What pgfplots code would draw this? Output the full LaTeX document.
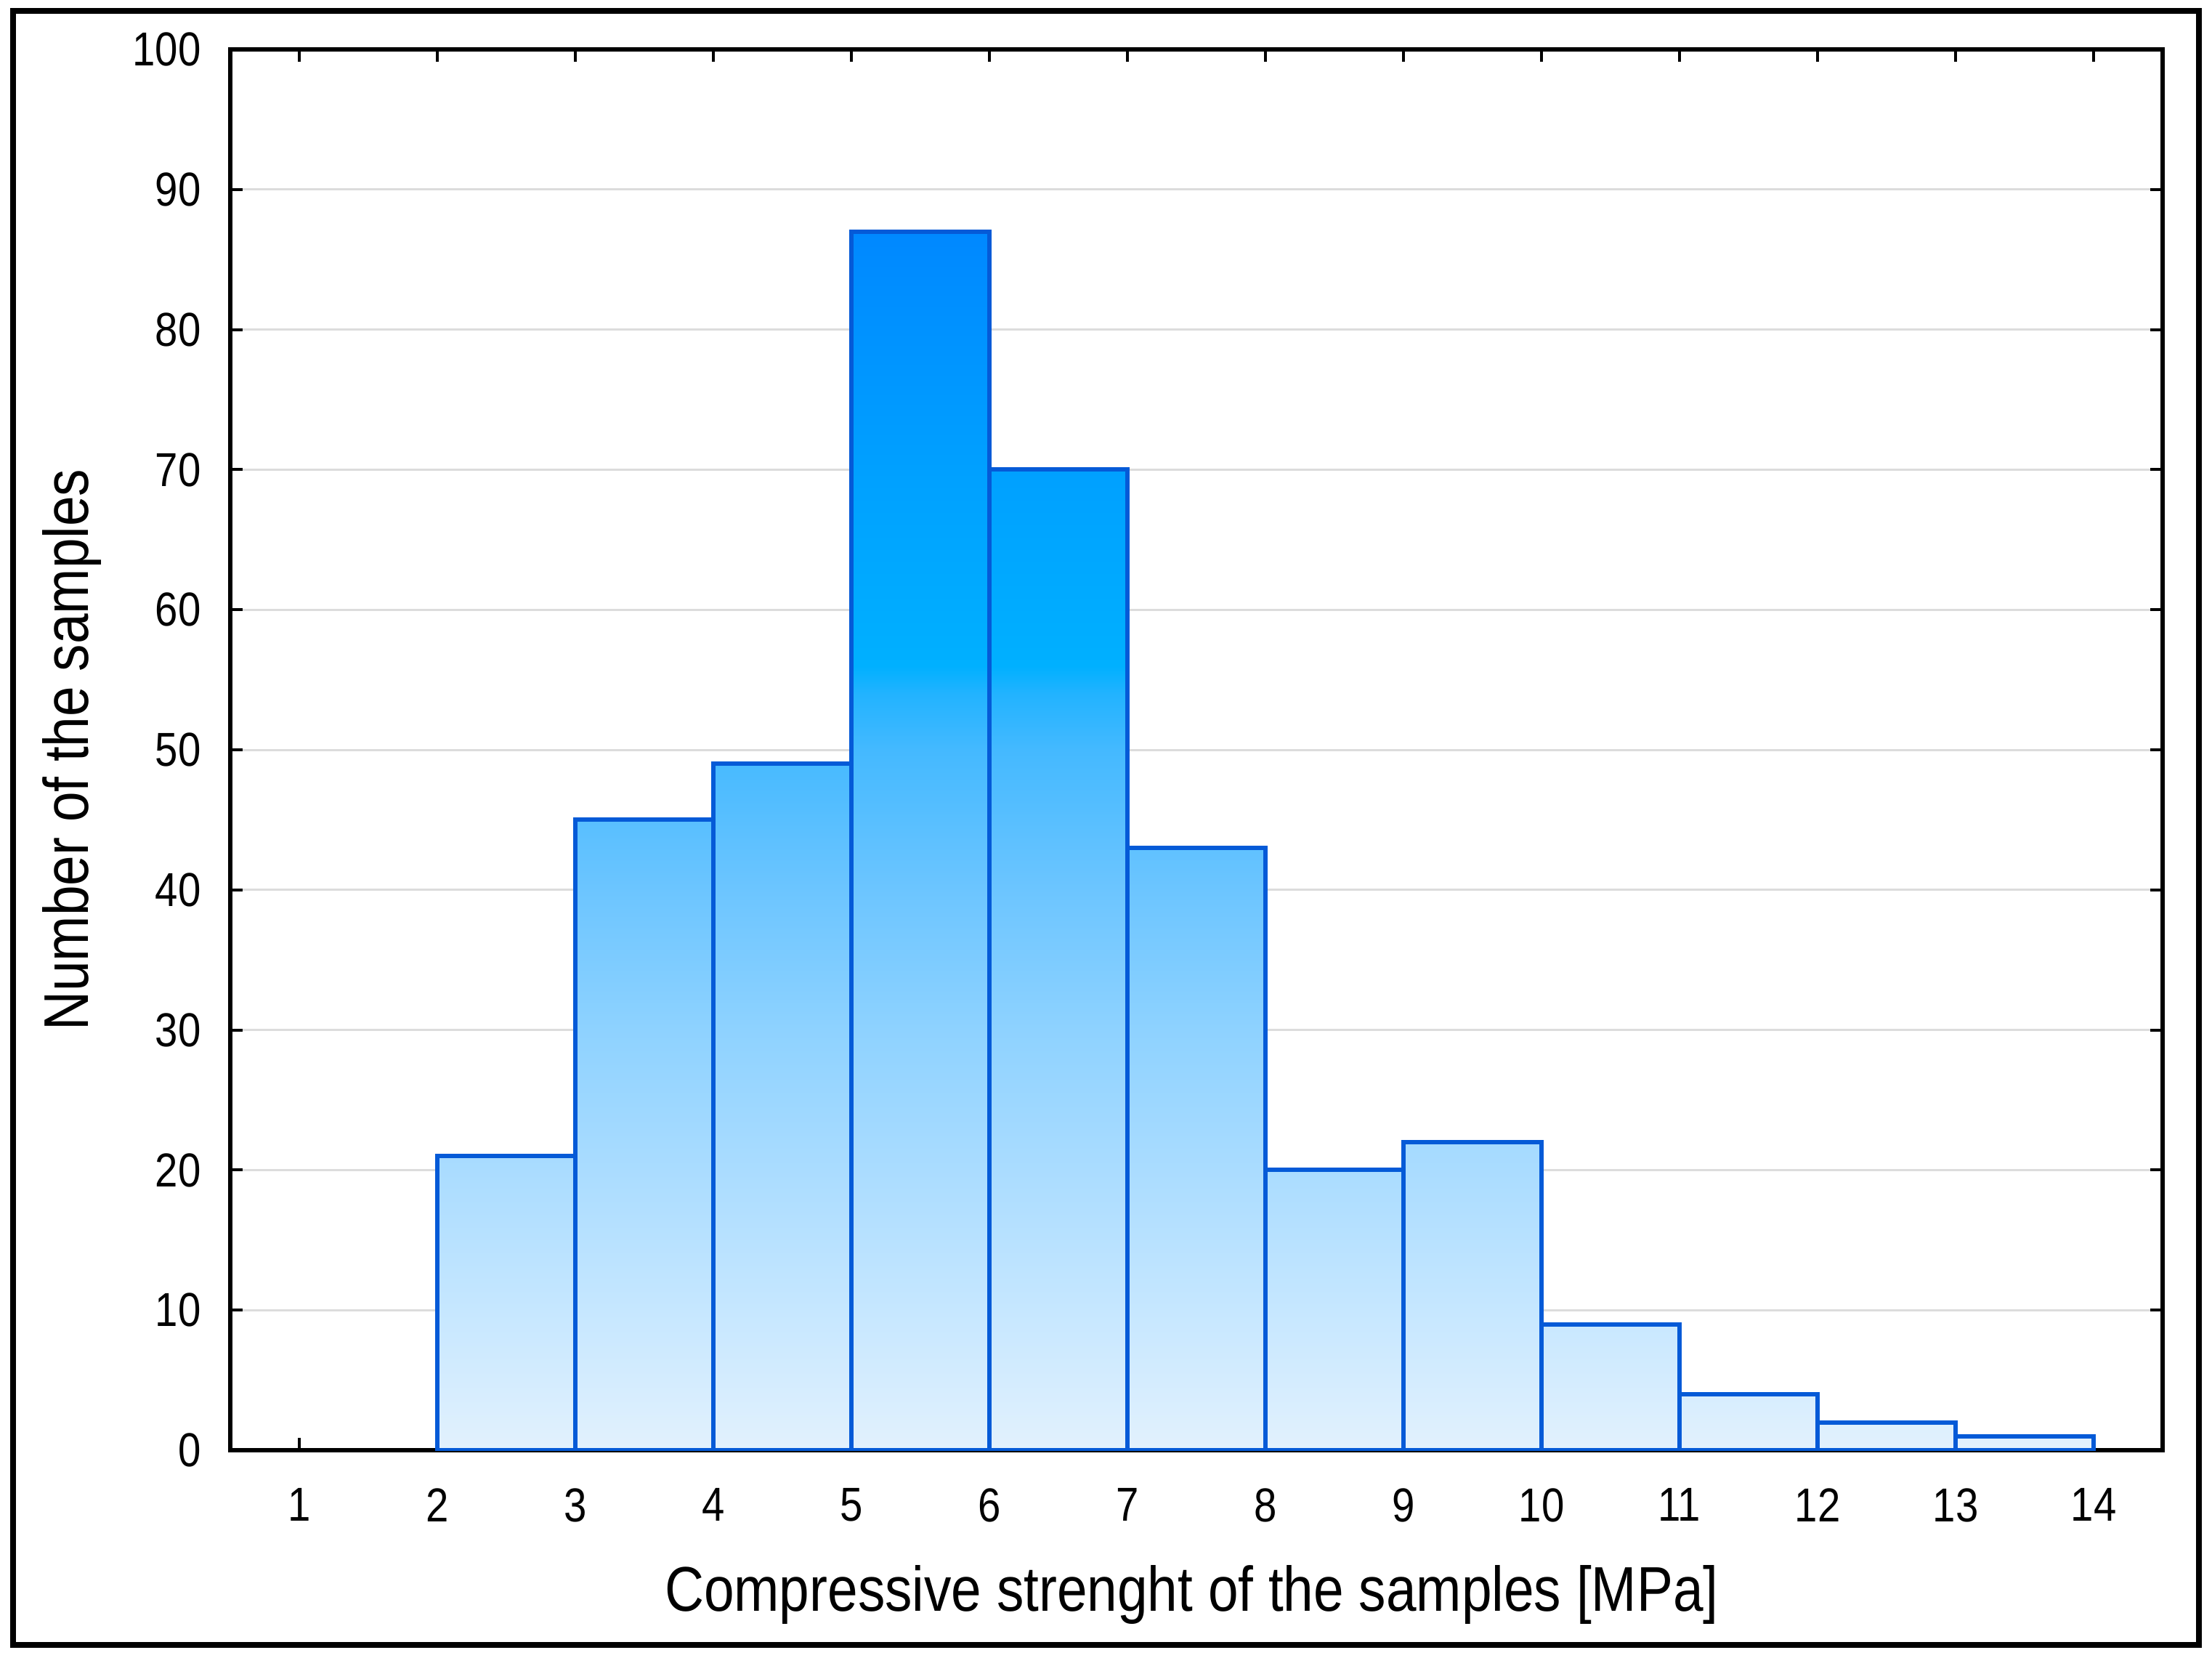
\documentclass[border=0pt]{standalone}
\usepackage{fontspec}
\setmainfont{Liberation Sans}[FakeStretch=0.86]
\usepackage{pgfplots}
\pgfplotsset{compat=1.18}
\definecolor{s0}{HTML}{E2F1FD}
\definecolor{s10}{HTML}{C6E7FF}
\definecolor{s20}{HTML}{AADCFF}
\definecolor{s30}{HTML}{8ED2FF}
\definecolor{s40}{HTML}{6CC5FF}
\definecolor{s50}{HTML}{44B9FF}
\definecolor{s54}{HTML}{22B3FF}
\definecolor{s56}{HTML}{00B0FF}
\definecolor{s70}{HTML}{00A0FF}
\definecolor{s87}{HTML}{0088FF}
\definecolor{barline}{RGB}{5,90,215}
\definecolor{gridgray}{HTML}{DCDCDC}
\pgfdeclareverticalshading{barshade}{100bp}{%
color(0bp)=(s0); color(25bp)=(s0); color(30.75bp)=(s10); color(36.49bp)=(s20);
color(42.24bp)=(s30); color(47.99bp)=(s40); color(53.74bp)=(s50); color(56.03bp)=(s54);
color(57.18bp)=(s56); color(65.23bp)=(s70); color(75bp)=(s87); color(100bp)=(s87)}
\begin{document}
\begin{tikzpicture}
\useasboundingbox (0,0) rectangle (16cm,11.986cm);
\fill[white] (0,0) rectangle (16cm,11.986cm);
\draw[line width=1.2pt, black] (0.0946cm,0.0893cm) rectangle (15.905cm,11.907cm);
\begin{axis}[
  at={(1.6657cm,1.4975cm)}, anchor=south west,
  scale only axis, width=13.977cm, height=10.131cm,
  xmin=0.5, xmax=14.5, ymin=0, ymax=100,
  xtick={1,2,...,14}, ytick={0,10,...,100},
  tick align=inside, major tick length=2.5pt,
  ymajorgrids, grid style={color=gridgray, line width=0.45pt},
  axis line style={line width=0.9pt, black},
  every tick/.style={black, line width=0.6pt},
  /pgf/number format/assume math mode=true,
  tick label style={font=\fontsize{9.8}{12}\selectfont, text=black},
  xticklabel style={yshift=-4.3pt},
  yticklabel style={xshift=-2.5pt},
  label style={font=\fontsize{13}{15}\selectfont, text=black},
  xlabel={Compressive strenght of the samples [MPa]},
  ylabel={Number of the samples},
  xlabel style={at={(axis description cs:0.4975,-0.1032)}, anchor=center},
  ylabel style={at={(axis description cs:-0.082,0.5)}, anchor=center},
]
\addplot[const plot, draw=none, shading=barshade, shading angle=0] coordinates {
(2,21) (3,45) (4,49) (5,87) (6,70) (7,43) (8,20) (9,22) (10,9) (11,4) (12,2) (13,1) (14,1)
} \closedcycle;
\addplot[ybar interval, fill=none, draw=barline, line width=0.9pt] coordinates {
(2,21) (3,45) (4,49) (5,87) (6,70) (7,43) (8,20) (9,22) (10,9) (11,4) (12,2) (13,1) (14,1)
};
\end{axis}
\end{tikzpicture}
\end{document}
